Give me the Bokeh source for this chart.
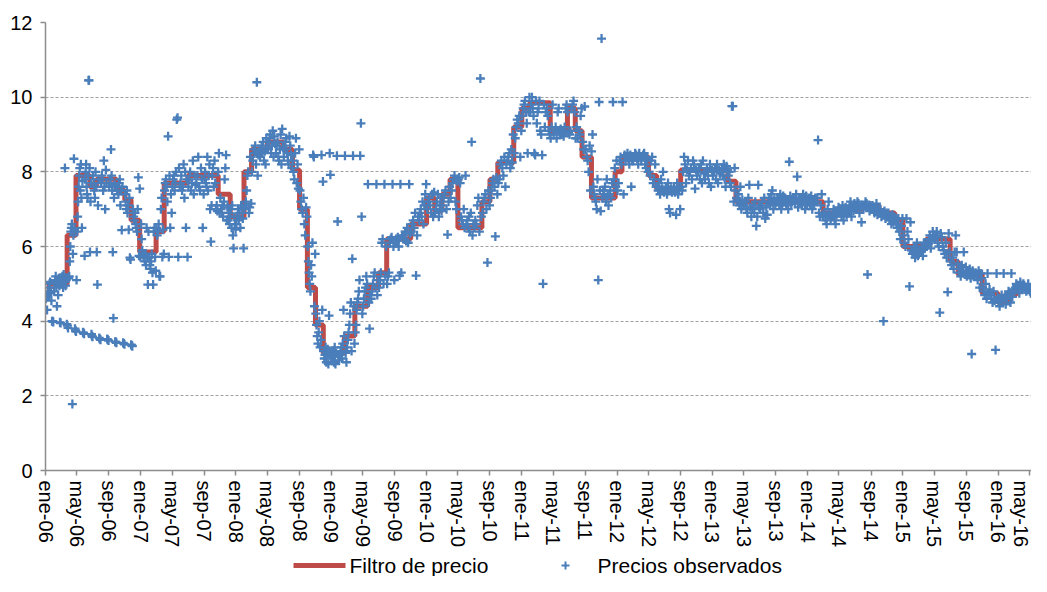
import pandas as pd
from bokeh.plotting import figure
from bokeh.layouts import column
from bokeh.models import Range1d, FixedTicker
from bokeh.core.properties import value
from bokeh.embed import file_html
from bokeh.resources import INLINE

# ---------------- data ----------------
tick_labels = ["ene-06", "may-06", "sep-06", "ene-07", "may-07", "sep-07", "ene-08", "may-08",
               "sep-08", "ene-09", "may-09", "sep-09", "ene-10", "may-10", "sep-10", "ene-11",
               "may-11", "sep-11", "ene-12", "may-12", "sep-12", "ene-13", "may-13", "sep-13",
               "ene-14", "may-14", "sep-14", "ene-15", "may-15", "sep-15", "ene-16", "may-16"]
y_ticks = [0, 2, 4, 6, 8, 10, 12]
series_names = ["Filtro de precio", "Precios observados"]

# Filtro de precio (step level starting at each date)
filt_dates = ["2006-01-01", "2006-01-15", "2006-03-25", "2006-04-28", "2006-06-20", "2006-07-15",
              "2006-10-01", "2006-11-01", "2006-11-25", "2006-12-28", "2007-03-01", "2007-04-01",
              "2007-07-01", "2007-10-25", "2007-12-10", "2008-02-01", "2008-03-01", "2008-05-01",
              "2008-07-01", "2008-08-05", "2008-09-01", "2008-10-01", "2008-11-01", "2008-12-01",
              "2009-02-20", "2009-04-01", "2009-05-20", "2009-07-01", "2009-08-01", "2009-11-01",
              "2010-01-01", "2010-02-01", "2010-03-01", "2010-04-01", "2010-05-01", "2010-08-01",
              "2010-09-01", "2010-10-01", "2010-12-01", "2011-01-01", "2011-02-01", "2011-04-20",
              "2011-06-25", "2011-07-25", "2011-08-20", "2011-09-25", "2011-12-25", "2012-01-20",
              "2012-05-01", "2012-06-01", "2012-09-01", "2013-03-01", "2013-04-01", "2014-03-01",
              "2014-06-01", "2014-08-01", "2014-10-01", "2014-12-01", "2015-01-01", "2015-04-01",
              "2015-07-01", "2015-08-01", "2015-11-01", "2016-01-01", "2016-02-15", "2016-03-10",
              "2016-05-17"]
filt_vals = [4.7, 5.0, 6.3, 7.9, 7.6, 7.8,
             7.5, 7.25, 6.7, 5.85, 6.4, 7.7,
             7.9, 7.4, 6.8, 8.0, 8.6, 8.8,
             8.6, 8.05, 7.0, 4.9, 3.9, 3.15,
             3.6, 4.4, 4.9, 5.3, 6.2, 6.6,
             7.3, 6.95, 7.4, 7.8, 6.5, 7.2,
             7.8, 8.25, 9.2, 9.7, 9.85, 9.1,
             9.7, 9.1, 8.4, 7.3, 8.0, 8.4,
             7.9, 7.55, 8.05, 7.75, 7.2, 6.9,
             7.0, 7.1, 6.9, 6.7, 6.0, 6.2,
             5.6, 5.25, 4.75, 4.5, 4.7, 4.9,
             4.9]

# Precios observados: one list of readings per month (Jan..Dec)
obs_2006 = [
    [4.6, 4.65, 4.3, 4.7, 4.8, 4.9, 5.0, 5.05, 4.75, 4.55, 4.0, 4.0, 3.98],
    [4.8, 5.0, 5.1, 5.2, 4.9, 4.4, 5.05, 4.7, 5.15, 4.95, 3.97, 3.95],
    [5.0, 5.1, 5.2, 4.9, 5.25, 5.05, 8.1, 4.95, 5.1, 3.92, 3.88, 3.82, 5.15],
    [5.2, 5.6, 6.0, 6.4, 6.5, 6.6, 1.78, 5.8, 6.3, 8.35, 6.45, 3.8, 3.75, 3.72, 5.1],
    [6.4, 6.8, 7.2, 7.6, 7.9, 8.1, 7.5, 8.2, 7.3, 6.5, 7.75, 3.7, 3.68, 3.66, 5.75],
    [7.8, 8.0, 8.2, 7.6, 7.4, 7.3, 7.9, 10.45, 10.45, 8.1, 5.85, 7.2, 7.7, 3.65, 3.6, 3.58],
    [7.9, 7.7, 7.5, 7.3, 8.0, 7.6, 5.85, 4.98, 7.1, 7.8, 3.55, 3.52, 3.5],
    [7.7, 7.9, 7.8, 7.5, 8.3, 7.6, 7.0, 8.05, 7.7, 3.52, 3.5, 3.48],
    [7.6, 7.8, 7.7, 8.6, 7.9, 7.5, 5.85, 4.08, 7.3, 7.65, 3.45, 3.44, 3.42],
    [7.5, 7.6, 7.4, 7.7, 7.8, 7.1, 7.5, 6.44, 7.6, 3.42, 3.4, 3.38],
    [7.4, 7.2, 7.0, 7.5, 6.9, 7.1, 6.45, 7.3, 5.7, 5.65, 3.37, 3.35, 3.33],
    [7.0, 6.8, 6.7, 6.9, 6.6, 6.5, 6.4, 7.0, 7.85, 5.75, 7.55, 5.72],
]
obs_2007 = [
    [6.6, 6.2, 5.9, 5.8, 5.7, 5.75, 5.6, 5.8, 5.5, 6.5, 5.72, 4.98, 6.4],
    [5.7, 5.5, 5.4, 5.6, 5.8, 5.3, 4.98, 6.4, 6.5, 5.72, 5.35],
    [6.5, 6.3, 6.4, 6.6, 5.2, 5.2, 7.0, 7.3, 5.72, 6.45, 5.8],
    [7.5, 7.7, 7.8, 7.6, 7.2, 8.95, 5.72, 7.9, 6.5, 7.4, 6.9],
    [7.6, 7.8, 7.9, 7.5, 7.7, 8.0, 9.4, 9.45, 5.72, 8.1, 7.6],
    [7.7, 7.9, 7.5, 7.6, 8.2, 7.3, 8.0, 6.5, 7.8, 5.72],
    [7.6, 7.8, 8.0, 7.5, 7.7, 8.3, 7.4, 7.9, 7.65],
    [7.7, 7.9, 8.4, 7.6, 7.5, 8.1, 7.8, 6.5, 7.4],
    [7.8, 8.0, 7.7, 7.6, 8.4, 7.5, 7.9, 8.2, 7.0, 6.13, 7.1],
    [7.9, 8.1, 7.6, 8.3, 7.7, 7.0, 7.1, 6.95, 8.0, 8.5, 6.9],
    [7.3, 7.0, 6.9, 7.1, 6.8, 7.2, 7.8, 8.1, 8.45, 6.7, 7.05],
    [6.7, 6.9, 6.6, 6.8, 7.0, 6.5, 7.1, 6.3, 5.95, 6.8, 6.6, 6.45],
]
obs_2008 = [
    [6.6, 6.8, 7.0, 6.7, 6.9, 6.5, 7.1, 7.05, 6.75, 5.95],
    [7.0, 7.1, 7.2, 7.5, 7.9, 8.0, 6.9, 7.05, 8.4, 7.15],
    [8.0, 8.3, 8.6, 8.5, 8.7, 8.2, 10.4, 7.9, 8.45, 8.55],
    [8.4, 8.6, 8.7, 8.5, 8.8, 8.3, 8.55, 8.2, 8.9, 8.65],
    [8.6, 8.8, 8.9, 9.0, 8.5, 8.7, 9.1, 8.4, 8.95, 8.75],
    [8.5, 8.7, 8.8, 8.4, 8.3, 8.6, 9.0, 8.2, 9.15, 8.65],
    [8.4, 8.6, 8.8, 8.9, 8.5, 8.3, 8.2, 8.95, 8.7, 8.45],
    [8.1, 8.3, 8.0, 7.8, 8.5, 8.9, 7.7, 8.2, 7.55, 8.6],
    [7.5, 7.2, 7.0, 6.9, 7.3, 6.6, 6.3, 7.05, 6.8],
    [6.0, 5.6, 5.3, 5.0, 4.8, 5.5, 5.2, 6.1, 8.45, 8.4, 4.4, 5.8],
    [4.2, 3.9, 3.6, 3.4, 3.7, 4.0, 3.3, 3.5, 8.45, 4.3, 7.74],
    [3.2, 3.0, 3.1, 3.3, 2.9, 3.15, 3.25, 2.85, 4.15, 8.5, 7.92, 3.05],
]
obs_2009 = [
    [3.0, 3.1, 3.2, 2.9, 3.3, 2.85, 3.15, 8.43, 6.67, 3.05, 2.95],
    [3.1, 3.2, 3.3, 3.0, 3.4, 4.3, 3.6, 8.43, 3.15, 2.9],
    [3.3, 3.5, 3.7, 3.9, 4.2, 4.5, 3.2, 5.67, 8.43, 4.4, 3.4],
    [3.7, 3.9, 4.3, 4.5, 4.6, 4.8, 5.1, 8.43, 9.3, 6.8, 4.2],
    [4.4, 4.6, 4.8, 4.9, 5.2, 5.0, 7.67, 4.5, 3.8, 4.7],
    [4.6, 4.8, 5.0, 5.2, 5.3, 4.9, 7.67, 4.7, 5.1],
    [4.9, 5.1, 5.3, 6.1, 6.2, 5.0, 7.67, 5.2, 6.0],
    [5.0, 5.2, 5.3, 6.1, 6.2, 6.25, 7.67, 6.0, 5.1],
    [6.1, 6.2, 6.15, 6.25, 6.0, 5.22, 7.67, 5.3, 6.3],
    [6.2, 6.3, 6.4, 6.15, 6.5, 6.1, 7.67, 6.35],
    [6.4, 6.6, 6.7, 6.5, 6.9, 5.22, 6.3, 6.8],
    [6.7, 6.9, 7.0, 6.8, 7.2, 6.6, 7.1, 7.4, 7.67],
]
obs_2010 = [
    [7.0, 7.2, 7.3, 7.1, 6.9, 7.4, 6.8, 7.45],
    [6.9, 7.0, 7.2, 7.4, 6.8, 7.1, 7.3, 6.95],
    [7.1, 7.3, 7.4, 7.5, 7.0, 6.32, 7.2, 7.6],
    [7.3, 7.5, 7.7, 7.8, 7.9, 7.2, 7.0, 7.75],
    [7.8, 7.85, 7.7, 6.8, 6.7, 6.6, 7.0, 6.5, 7.9],
    [6.6, 6.7, 6.5, 6.8, 6.4, 6.9, 8.8, 6.3, 6.6],
    [6.5, 6.7, 6.6, 7.1, 7.3, 6.4, 10.5, 6.8],
    [6.9, 7.2, 7.3, 7.4, 7.0, 5.57, 7.5, 7.1],
    [7.3, 7.5, 7.7, 7.8, 7.6, 6.27, 7.85, 7.4],
    [7.7, 7.8, 8.2, 8.3, 8.1, 7.9, 8.4, 7.6],
    [8.2, 8.3, 8.4, 8.5, 8.1, 8.6, 8.25, 9.0],
    [8.5, 8.9, 9.2, 9.4, 9.3, 9.5, 8.4, 9.1],
]
obs_2011 = [
    [9.5, 9.7, 9.8, 9.9, 9.6, 9.3, 8.5, 9.6, 10.0],
    [9.6, 9.8, 10.0, 9.7, 9.5, 8.5, 8.45, 9.9, 9.3],
    [9.6, 9.7, 9.9, 9.1, 9.0, 8.45, 5.0, 9.8, 9.2],
    [9.6, 9.7, 9.5, 9.1, 9.0, 8.9, 9.2, 9.8],
    [9.0, 9.1, 9.2, 8.9, 9.6, 9.7, 9.05, 9.15],
    [9.0, 9.1, 8.95, 9.2, 9.7, 9.8, 9.6, 9.05],
    [9.0, 9.1, 9.7, 9.8, 9.9, 9.6, 8.9, 9.2],
    [8.9, 9.1, 9.0, 9.5, 9.7, 8.8, 8.6, 9.75],
    [8.6, 8.4, 8.3, 8.0, 8.7, 7.5, 8.55, 9.0],
    [7.6, 7.4, 7.3, 7.2, 7.0, 7.8, 5.1, 9.87, 7.5, 6.95],
    [11.57, 7.3, 7.5, 7.4, 7.6, 7.2, 7.8, 7.35, 7.1],
    [7.4, 7.5, 7.3, 7.7, 9.87, 7.8, 8.1, 7.6, 8.3],
]
obs_2012 = [
    [7.5, 7.7, 8.3, 8.4, 8.2, 9.87, 7.4, 8.45],
    [8.3, 8.4, 8.5, 8.35, 8.2, 8.45, 7.6, 8.3],
    [8.3, 8.4, 8.5, 8.45, 8.35, 8.2, 8.5, 8.4],
    [8.3, 8.4, 8.45, 8.5, 8.2, 8.1, 8.35, 8.0],
    [8.0, 7.9, 8.3, 8.4, 7.7, 7.8, 8.2, 7.6],
    [7.6, 7.5, 7.7, 7.4, 7.8, 7.55, 8.0, 7.45],
    [7.5, 7.6, 7.4, 7.7, 7.0, 6.9, 7.55, 7.45],
    [7.5, 7.6, 7.45, 6.85, 7.7, 7.4, 7.55, 7.0],
    [7.6, 7.5, 8.0, 8.4, 8.2, 7.7, 8.05, 8.3],
    [7.9, 8.0, 8.1, 7.8, 8.3, 8.2, 7.55, 8.05],
    [7.9, 8.0, 8.1, 7.8, 8.2, 7.7, 8.3, 7.95],
    [7.8, 8.0, 8.1, 7.9, 7.7, 8.2, 7.6, 8.05],
]
obs_2013 = [
    [7.9, 8.0, 8.1, 7.8, 8.2, 7.7, 8.05, 7.95],
    [8.0, 8.1, 7.9, 8.2, 7.8, 7.6, 8.15, 8.05],
    [7.9, 8.0, 7.7, 7.6, 9.76, 9.76, 7.2, 8.1, 7.5],
    [7.3, 7.2, 7.4, 7.1, 7.6, 7.0, 7.25, 7.15],
    [7.1, 7.2, 7.0, 6.9, 7.3, 7.65, 7.05, 6.8],
    [7.0, 7.1, 6.9, 7.2, 6.55, 6.8, 7.65, 7.05],
    [7.0, 7.1, 7.2, 6.9, 7.3, 6.75, 7.05, 6.85],
    [7.2, 7.3, 7.1, 7.4, 7.5, 7.0, 7.25, 7.15],
    [7.2, 7.3, 7.25, 7.1, 7.4, 7.0, 7.15, 7.35],
    [7.2, 7.3, 7.1, 7.25, 7.0, 8.27, 7.35, 7.15],
    [7.2, 7.3, 7.25, 7.15, 7.4, 7.87, 7.05, 7.3],
    [7.2, 7.3, 7.1, 7.4, 7.25, 7.0, 7.35, 7.15],
]
obs_2014 = [
    [7.2, 7.3, 7.1, 7.35, 7.0, 7.25, 7.15, 7.3],
    [7.2, 7.3, 8.85, 6.9, 6.8, 7.1, 7.4, 6.85],
    [6.8, 6.9, 6.7, 6.6, 7.0, 7.2, 6.85, 6.75],
    [6.8, 6.9, 7.0, 6.7, 6.6, 6.85, 6.95, 7.05],
    [6.9, 7.0, 6.8, 7.1, 6.7, 6.95, 7.05, 6.85],
    [6.9, 7.0, 7.1, 7.2, 6.8, 7.05, 6.95, 7.15],
    [7.0, 7.1, 7.2, 7.15, 6.9, 7.05, 6.65, 7.1],
    [7.0, 7.1, 7.2, 7.15, 5.25, 7.05, 6.95, 7.1],
    [7.0, 7.1, 7.05, 6.9, 6.95, 7.15, 6.85, 7.0],
    [6.9, 7.0, 6.8, 6.85, 4.0, 6.95, 6.75, 6.9],
    [6.8, 6.9, 6.7, 6.75, 6.6, 6.85, 6.65, 6.8],
    [6.7, 6.6, 6.5, 6.75, 6.4, 6.2, 6.55, 6.75],
]
obs_2015 = [
    [6.3, 6.1, 6.0, 6.75, 6.4, 6.2, 4.93, 6.65],
    [5.9, 5.8, 5.85, 6.0, 5.7, 5.95, 6.1, 5.75],
    [5.8, 5.9, 5.85, 6.0, 5.75, 6.1, 5.95, 6.05],
    [6.0, 6.1, 6.2, 6.3, 5.95, 6.15, 6.4, 6.25],
    [6.2, 6.3, 6.4, 6.1, 6.0, 4.23, 6.35, 6.25],
    [6.0, 5.9, 5.8, 6.1, 5.7, 4.78, 6.35, 5.85],
    [5.6, 5.5, 5.7, 5.4, 5.85, 6.3, 5.85, 5.55],
    [5.3, 5.4, 5.2, 5.5, 5.35, 5.85, 5.25, 5.45],
    [5.2, 5.3, 5.25, 5.4, 5.15, 3.12, 5.35, 5.2],
    [5.2, 5.3, 5.25, 5.1, 5.35, 4.9, 5.28, 5.15],
    [4.9, 4.8, 4.7, 5.0, 4.6, 5.28, 4.75, 4.85],
    [4.7, 4.6, 4.5, 4.8, 4.55, 3.23, 5.28, 4.65],
]
obs_2016 = [
    [4.5, 4.4, 4.6, 4.7, 4.55, 5.28, 4.65, 4.45],
    [4.6, 4.7, 4.8, 4.75, 4.5, 5.28, 4.65, 4.85],
    [4.8, 4.9, 5.0, 4.95, 4.85, 4.75, 5.05, 4.9],
    [4.9, 5.0, 4.95, 4.85, 4.8, 4.9, 5.0, 4.85],
    [4.8, 4.9, 4.75, 4.85],
]

# ---------------- layout / styles ----------------
X_START = pd.Timestamp("2006-01-01")
X_END = pd.Timestamp("2016-05-08")
FONT = "Liberation Sans"
BLUE = "#4A7EBB"
RED = "#BE4B48"
AXIS_GREY = "#8C8C8C"
W = 1031
LEFT = 45
LEG_H = 26


def ms(ts):
    return pd.Timestamp(ts).value / 1e6


obs_all = obs_2006 + obs_2007 + obs_2008 + obs_2009 + obs_2010 + obs_2011 + \
    obs_2012 + obs_2013 + obs_2014 + obs_2015 + obs_2016
month_starts = pd.date_range(X_START, periods=len(obs_all), freq="MS")
obs_x, obs_y = [], []
for start, vals in zip(month_starts, obs_all):
    stop = min(start + pd.offsets.MonthBegin(1), X_END)
    span = stop - start
    n = len(vals)
    for i, v in enumerate(vals):
        obs_x.append(start + span * ((i + 0.5) / n))
        obs_y.append(v)

filt_x = pd.to_datetime(filt_dates)

tick_dates = pd.date_range("2006-01-01", periods=len(tick_labels), freq="4MS")
tick_ms = [ms(t) for t in tick_dates]

# ---------------- main chart ----------------
p = figure(width=W, height=550, x_axis_type="datetime",
           x_range=Range1d(ms(X_START), ms(X_END)), y_range=Range1d(0, 12),
           output_backend="svg", toolbar_location=None,
           min_border_left=LEFT, min_border_right=0, min_border_top=22, min_border_bottom=78)
p.outline_line_color = None

p.step(filt_x, filt_vals, mode="after", line_width=5, line_color=RED)
p.scatter(obs_x, obs_y, marker="cross", size=9, line_width=2.3, line_color=BLUE)

xa = p.xaxis[0]
xa.ticker = FixedTicker(ticks=tick_ms)
xa.major_label_overrides = {t: lab for t, lab in zip(tick_ms, tick_labels)}
xa.major_label_orientation = "vertical"
ya = p.yaxis[0]
ya.ticker = FixedTicker(ticks=y_ticks)
for ax in (xa, ya):
    ax.axis_line_color = AXIS_GREY
    ax.axis_line_width = 1.5
    ax.major_tick_line_color = AXIS_GREY
    ax.major_tick_line_width = 1.5
    ax.major_tick_in = 0
    ax.major_tick_out = 5
    ax.minor_tick_line_color = None
    ax.major_label_text_font = FONT
    ax.major_label_text_font_size = "20px"
    ax.major_label_text_color = "black"
xa.major_label_standoff = 5
ya.major_label_standoff = 8

p.xgrid.visible = False
p.ygrid.ticker = FixedTicker(ticks=y_ticks)
p.ygrid.grid_line_color = "#A0A0A0"
p.ygrid.grid_line_dash = "3 2"
p.ygrid.grid_line_width = 1

# ---------------- legend strip (page-pixel coordinates) ----------------
pl = figure(width=W, height=LEG_H, x_range=Range1d(LEFT, W), y_range=Range1d(0, LEG_H),
            x_axis_location=None, y_axis_location=None,
            output_backend="svg", toolbar_location=None,
            min_border_left=LEFT, min_border_right=0, min_border_top=0, min_border_bottom=0)
pl.grid.visible = False
pl.outline_line_color = None
LEG_Y = 11
pl.line(x=[293, 345], y=[LEG_Y, LEG_Y], line_width=5, line_color=RED)
pl.scatter(x=[565], y=[LEG_Y], marker="cross", size=8, line_width=2, line_color=BLUE)
pl.text(x=[349, 597], y=[LEG_Y, LEG_Y], text=series_names,
        text_font=value(FONT), text_font_size="21px", text_color="black",
        text_align="left", text_baseline="middle")

open("out.html", "w").write(file_html(column(p, pl, spacing=0), INLINE))
